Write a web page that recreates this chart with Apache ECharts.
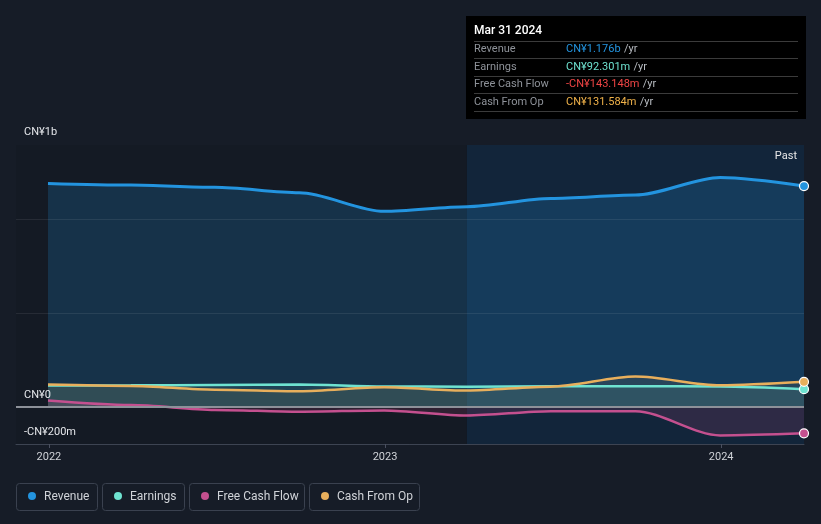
<!DOCTYPE html>
<html>
<head>
<meta charset="utf-8">
<script src="https://cdn.jsdelivr.net/npm/echarts@6/dist/echarts.min.js"></script>
<style>
html,body{margin:0;padding:0;background:#161c27;}
#chart{width:821px;height:524px;}
</style>
</head>
<body>
<div id="chart"></div>
<script>
// ---- data ----
const dates = ['2021-12-31','2022-03-31','2022-06-30','2022-09-30','2022-12-31','2023-03-31','2023-06-30','2023-09-30','2023-12-31','2024-03-31'];
const revenue = [1.190, 1.181, 1.169, 1.140, 1.041, 1.066, 1.110, 1.128, 1.222, 1.176];
const earnings = [0.112, 0.113, 0.115, 0.117, 0.107, 0.106, 0.108, 0.108, 0.107, 0.0923];
const freeCashFlow = [0.032, 0.008, -0.018, -0.028, -0.021, -0.048, -0.025, -0.025, -0.154, -0.143];
const cashFromOp = [0.117, 0.110, 0.090, 0.082, 0.103, 0.085, 0.106, 0.160, 0.113, 0.1316];
const seriesNames = ['Revenue', 'Earnings', 'Free Cash Flow', 'Cash From Op'];
const seriesColors = ['#2394df', '#6fe3d1', '#c4508f', '#e8af5c'];
const yTickLabels = ['CN¥1b', 'CN¥0', '-CN¥200m'];
const xTickYears = ['2022', '2023', '2024'];
const tipTitle = 'Mar 31 2024';
const tipValues = ['CN¥1.176b', 'CN¥92.301m', '-CN¥143.148m', 'CN¥131.584m'];
const tipValueColors = ['#2394df', '#6fe3d1', '#f04545', '#f0b24a'];
const pastStart = '2023-03-31';

const FONT = 'Roboto, "Open Sans", sans-serif';
const chart = echarts.init(document.getElementById('chart'), null, {renderer: 'canvas'});

const DAY = 86400000;
function ts(s) { return Date.UTC(+s.slice(0, 4), +s.slice(5, 7) - 1, +s.slice(8, 10)); }
function pairs(vals) {
  return vals.map((v, i) => [ts(dates[i]), v]);
}
const lastIdx = dates.length - 1;
const allValues = [revenue, earnings, freeCashFlow, cashFromOp];
const fillColors = ['rgba(35,148,223,0.29)', 'rgba(113,231,214,0.13)', 'rgba(200,70,130,0.22)', 'rgba(232,175,92,0.13)'];
const lineWidths = [3, 2.5, 2.5, 2.5];

const xMin = ts(dates[0]) - 34.75 * DAY;
const xMax = ts(dates[lastIdx]);
const yearTicks = xTickYears.map(y => Date.UTC(+y, 0, 1));

const series = allValues.map((vals, k) => ({
  name: seriesNames[k],
  type: 'line',
  data: pairs(vals),
  smooth: 0.3,
  smoothMonotone: 'x',
  showSymbol: true,
  showAllSymbol: true,
  symbol: 'circle',
  symbolSize: (v, p) => p.dataIndex === lastIdx ? 9 : 0,
  itemStyle: {color: seriesColors[k], borderColor: '#ffffff', borderWidth: 1.2},
  lineStyle: {color: seriesColors[k], width: lineWidths[k]},
  areaStyle: {color: fillColors[k], origin: 0},
  z: k === 0 ? 3 : 4,
  silent: true,
  animation: false
}));

// background regions + grid lines
series.push({
  type: 'line',
  data: [],
  silent: true,
  z: 1,
  markArea: {
    silent: true,
    data: [
      [{xAxis: xMin, itemStyle: {color: '#141a24'}}, {xAxis: ts(pastStart)}],
      [{xAxis: ts(pastStart), itemStyle: {color: '#12253a'}}, {xAxis: xMax}]
    ]
  },
  markLine: {
    silent: true,
    symbol: 'none',
    label: {show: false},
    data: [
      {yAxis: 0.5, lineStyle: {color: 'rgba(255,255,255,0.08)', width: 1, type: 'solid'}},
      {yAxis: 1.0, lineStyle: {color: 'rgba(255,255,255,0.08)', width: 1, type: 'solid'}},
      {yAxis: 1.395, lineStyle: {color: 'rgba(255,255,255,0.25)', width: 1, type: 'solid'}}
    ]
  }
});
series.push({
  type: 'line',
  data: [],
  silent: true,
  z: 5,
  markLine: {
    silent: true,
    symbol: 'none',
    label: {show: false},
    data: [{yAxis: 0, lineStyle: {color: '#8d9199', width: 2, type: 'solid'}}]
  }
});

// tooltip-like box
const tipGraphics = [];
tipGraphics.push({type: 'rect', shape: {x: 466, y: 16, width: 340, height: 103}, style: {fill: '#000000'}, z: 10});
tipGraphics.push({type: 'text', x: 474, y: 31, style: {text: tipTitle, fill: '#ffffff', font: '500 12px ' + FONT, verticalAlign: 'middle'}, z: 11});
const sepY = [41.5, 58.5, 76.5, 93.5, 111.5];
sepY.forEach(y => tipGraphics.push({type: 'line', shape: {x1: 474, y1: y, x2: 798, y2: y}, style: {stroke: '#3b3b3b', lineWidth: 1}, z: 11}));
const rowY = [49.5, 67, 84.5, 102];
seriesNames.forEach((n, i) => {
  tipGraphics.push({type: 'text', x: 474, y: rowY[i], style: {text: n, fill: '#8e9299', font: '11px ' + FONT, verticalAlign: 'middle'}, z: 11});
  tipGraphics.push({type: 'text', x: 566, y: rowY[i], style: {
    text: '{v|' + tipValues[i] + '} {u|/yr}',
    verticalAlign: 'middle',
    rich: {
      v: {fill: tipValueColors[i], font: '11px ' + FONT},
      u: {fill: '#b8bcc2', font: '11px ' + FONT}
    }
  }, z: 11});
});

// legend boxes
const legBoxes = [[16, 97], [102, 184], [189, 304], [309, 419]];
const legDots = [32, 118, 205, 325];
const legText = [44, 130, 217, 337];
const legGraphics = [];
seriesNames.forEach((n, i) => {
  legGraphics.push({type: 'rect', shape: {x: legBoxes[i][0] + 0.5, y: 483.5, width: legBoxes[i][1] - legBoxes[i][0], height: 27, r: 3}, style: {fill: 'transparent', stroke: '#3a414f', lineWidth: 1}, z: 10});
  legGraphics.push({type: 'circle', shape: {cx: legDots[i], cy: 496, r: 4}, style: {fill: seriesColors[i]}, z: 10});
  legGraphics.push({type: 'text', x: legText[i], y: 496.5, style: {text: n, fill: '#d0d3d8', font: '12px ' + FONT, verticalAlign: 'middle'}, z: 10});
});

// y labels and Past
const yLabelPos = [132, 395, 432];
const yLabGraphics = yTickLabels.map((t, i) => ({type: 'text', x: 24, y: yLabelPos[i], style: {text: t, fill: '#e4e6ea', font: '11px ' + FONT, verticalAlign: 'middle'}, z: 10}));
yLabGraphics.push({type: 'text', x: 797, y: 156, style: {text: 'Past', fill: '#e8e8e8', font: '11px ' + FONT, align: 'right', verticalAlign: 'middle'}, z: 10});

const option = {
  backgroundColor: '#161c27',
  animation: false,
  grid: {left: 16, right: 17, top: 145, bottom: 80, containLabel: false},
  xAxis: {
    type: 'value',
    min: xMin,
    max: xMax,
    axisLine: {show: true, onZero: false, lineStyle: {color: '#3d4452', width: 1}},
    axisTick: {show: true, customValues: yearTicks, length: 4, lineStyle: {color: '#4a5060'}},
    axisLabel: {
      show: true,
      customValues: yearTicks,
      formatter: v => String(new Date(v).getUTCFullYear()),
      color: '#d0d3d8',
      fontSize: 11,
      fontFamily: FONT,
      margin: 8
    },
    splitLine: {show: false}
  },
  yAxis: {
    type: 'value',
    min: -0.2,
    max: 1.395,
    axisLine: {show: false},
    axisTick: {show: false},
    axisLabel: {show: false},
    splitLine: {show: false}
  },
  series: series,
  graphic: [].concat(tipGraphics, legGraphics, yLabGraphics)
};
chart.setOption(option);
</script>
</body>
</html>
